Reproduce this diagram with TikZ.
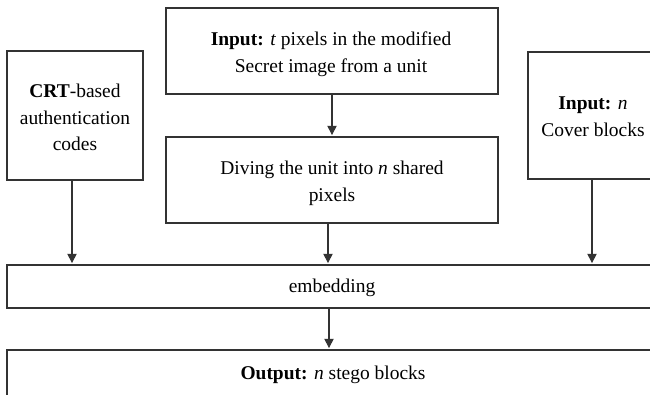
\documentclass[tikz,border=0pt]{standalone}
\usepackage{fontspec}
\setmainfont{Liberation Serif}
\usetikzlibrary{arrows.meta}
\begin{document}
\begin{tikzpicture}[x=0.75pt,y=-0.75pt,
  box/.style={draw=black!80,line width=0.85pt,rectangle,inner sep=0pt},
  txt/.style={inner sep=0pt,align=center,font=\fontsize{14.6}{20.0}\selectfont},
  arr/.style={draw=black!80,line width=0.8pt,-{Triangle[width=7pt,length=7pt]},shorten >=1pt}]
\clip (0,0) rectangle (650,394);
\node[box,minimum width=136*0.75pt,minimum height=129*0.75pt] (A) at (75,115.5) {};
\node[box,minimum width=332*0.75pt,minimum height=86*0.75pt] (B) at (332,51) {};
\node[box,minimum width=332*0.75pt,minimum height=86*0.75pt] (C) at (332,180) {};
\node[box,minimum width=128*0.75pt,minimum height=127*0.75pt] (D) at (592,115.5) {};
\node[box,minimum width=650*0.75pt,minimum height=43*0.75pt] (E) at (332,286.5) {};
\node[box,minimum width=650*0.75pt,minimum height=50*0.75pt] (F) at (332,375) {};
\node[txt] (At) at (75,117.5) {\textbf{CRT}-based\\authentication\\codes};
\node[txt] (Bt) at (331,54.5) {\textbf{Input:} \textit{t} pixels in the modified\\Secret image from a unit};
\node[txt] (Ct) at (332,183) {Diving the unit into \textit{n} shared\\pixels};
\node[txt] (Dt) at (593,117) {\textbf{Input:} \textit{n}\\Cover blocks};
\node[txt] (Et) at (332,288) {embedding};
\node[txt] (Ft) at (333,375) {\textbf{Output:} \textit{n} stego blocks};
\coordinate (a1) at ([xshift=-2.25pt]A.south);
\draw[arr] (a1) -- (a1 |- E.north);
\draw[arr] (B.south) -- (C.north);
\draw[arr] ([xshift=-3pt]C.south) -- ([xshift=-3pt]C.south |- E.north);
\draw[arr] (D.south) -- (D.south |- E.north);
\draw[arr] ([xshift=-2.25pt]E.south) -- ([xshift=-2.25pt]F.north);
\end{tikzpicture}
\end{document}
